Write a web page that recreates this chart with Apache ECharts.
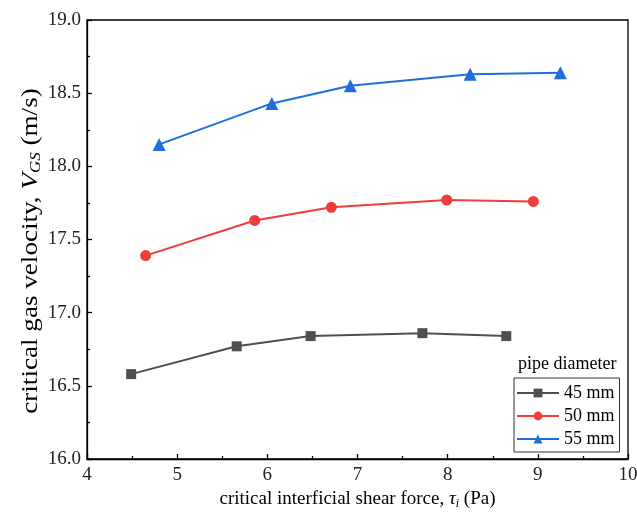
<!DOCTYPE html>
<html>
<head>
<meta charset="utf-8">
<script src="https://cdn.jsdelivr.net/npm/echarts@6/dist/echarts.min.js"></script>
<style>
html,body{margin:0;padding:0;background:#fff;}
#chart{width:637px;height:526px;}
</style>
</head>
<body>
<div id="chart"></div>
<script>
// ---- data ----
const seriesNames = ['45 mm', '50 mm', '55 mm'];
const x45 = [4.49, 5.66, 6.48, 7.72, 8.65];
const y45 = [16.58, 16.77, 16.84, 16.86, 16.84];
const x50 = [4.65, 5.86, 6.71, 7.99, 8.95];
const y50 = [17.39, 17.63, 17.72, 17.77, 17.76];
const x55 = [4.80, 6.05, 6.92, 8.25, 9.25];
const y55 = [18.15, 18.43, 18.55, 18.63, 18.64];
const legendTitle = 'pipe diameter';
const yTitle = 'critical gas velocity, {i|V}{sub|GS} (m/s)';
const xTitle = 'critical interficial shear force, {i|τ}{sub|i} (Pa)';

const colors = ['#4f4f4f', '#f03c3c', '#1e6fdc'];
const symbols = ['rect', 'circle', 'triangle'];
const symbolSizes = [10, 11, 13];
const xs = [x45, x50, x55];
const ys = [y45, y50, y55];

const font = 'Liberation Serif';
const chart = echarts.init(document.getElementById('chart'), null, {renderer: 'canvas'});

const series = seriesNames.map((n, k) => ({
  name: n,
  type: 'line',
  data: xs[k].map((x, i) => [x, ys[k][i]]),
  symbol: symbols[k],
  symbolSize: symbolSizes[k],
  showAllSymbol: true,
  lineStyle: {color: colors[k], width: 2},
  itemStyle: {color: colors[k]},
  z: 3 + k
}));

chart.setOption({
  animation: false,
  backgroundColor: '#fff',
  grid: {left: 87, right: 9, top: 20, bottom: 67, containLabel: false, outerBoundsMode: 'none',
    show: true, borderColor: '#000', borderWidth: 1.3, backgroundColor: 'transparent'},
  textStyle: {fontFamily: font},
  xAxis: {
    type: 'value', min: 4, max: 10, interval: 1,
    axisLine: {show: true, onZero: false, lineStyle: {color: '#000', width: 1.3}},
    axisTick: {show: true, inside: true, length: 5, lineStyle: {color: '#000', width: 1.3}},
    minorTick: {show: true, splitNumber: 2, length: 3, lineStyle: {color: '#000', width: 1.3}},
    splitLine: {show: false},
    axisLabel: {color: '#222', fontSize: 19, fontFamily: font, margin: 7},
    name: xTitle,
    nameLocation: 'middle', nameGap: 27,
    nameTextStyle: {color: '#000', fontSize: 19, fontFamily: font,
      rich: {
        i: {fontStyle: 'italic', fontSize: 19, fontFamily: font, color: '#000'},
        sub: {fontStyle: 'italic', fontSize: 12, fontFamily: font, color: '#000', verticalAlign: 'bottom', padding: [8, 0, 0, 0]}
      }}
  },
  yAxis: {
    type: 'value', min: 16, max: 19, interval: 0.5,
    axisLine: {show: true, onZero: false, lineStyle: {color: '#000', width: 1.3}},
    axisTick: {show: true, inside: true, length: 5, lineStyle: {color: '#000', width: 1.3}},
    minorTick: {show: true, splitNumber: 2, length: 3, lineStyle: {color: '#000', width: 1.3}},
    splitLine: {show: false},
    axisLabel: {color: '#222', fontSize: 19, fontFamily: font, margin: 6, formatter: v => v.toFixed(1)}
  },
  legend: {
    data: seriesNames,
    orient: 'vertical',
    left: 514, top: 378,
    itemWidth: 42, itemHeight: 11, itemGap: 5,
    padding: [6, 5, 4, 2],
    borderColor: '#333', borderWidth: 1,
    textStyle: {color: '#000', fontSize: 18, fontFamily: font}
  },
  graphic: [{
    type: 'text', left: 518, top: 355,
    style: {text: legendTitle, fill: '#000', font: '18px "Liberation Serif"'}
  }, {
    type: 'text', x: 31, y: 251, rotation: Math.PI / 2, scaleX: 1.13, scaleY: 1,
    style: {
      text: yTitle, fill: '#000', font: '24px "Liberation Serif"',
      align: 'center', verticalAlign: 'middle',
      rich: {
        i: {fontStyle: 'italic', fontSize: 24, fontFamily: font, fill: '#000'},
        sub: {fontStyle: 'italic', fontSize: 15, fontFamily: font, fill: '#000', verticalAlign: 'bottom', padding: [10, 0, 0, 0]}
      }
    }
  }],
  series: series
});
</script>
</body>
</html>
